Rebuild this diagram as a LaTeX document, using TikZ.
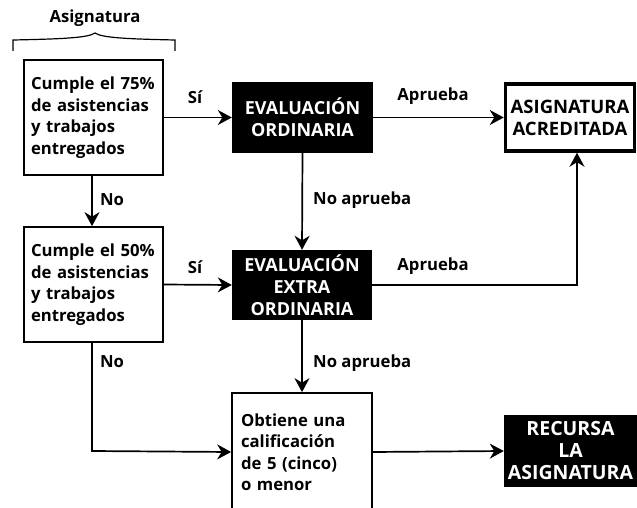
\documentclass[tikz,border=0pt]{standalone}
\usepackage{fontspec}
\setmainfont{Open Sans}
\usetikzlibrary{arrows.meta}
\begin{document}
\begin{tikzpicture}[x=1pt,y=-1pt,
  every node/.style={font=\bfseries\fontsize{16.7}{21.5}\selectfont},
  lbox/.style={draw, line width=1.7pt, minimum width=139pt, minimum height=115pt, text width=125pt, align=left, inner sep=0pt},
  dbox/.style={fill=black, text=white, minimum width=141pt, minimum height=71pt, align=center, inner sep=0pt, font=\bfseries\fontsize{18}{22}\selectfont},
  conn/.style={line width=1.7pt, -{Stealth[length=14pt,width=15pt]}},
  lbl/.style={inner sep=0pt}
]
\clip (0,0) rectangle (637,508);
\fill[white] (0,0) rectangle (637,508);
\node[lbl] (title) at (95,18) {Asignatura};
\draw[line width=1.2pt] (13,51) -- (13,40) .. controls (60,39) and (88,38) .. (95,33) .. controls (102,38) and (130,39) .. (175,40) -- (175,51);
\node[lbox] (b1) at (93.5,117.5) {Cumple el 75\%\\de asistencias\\y trabajos\\entregados};
\node[dbox] (eo) at (302.5,117.5) {EVALUACIÓN\\ORDINARIA};
\node[draw, line width=3.5pt, minimum width=129pt, minimum height=67pt, align=center, inner sep=0pt, font=\bfseries\fontsize{18.5}{22}\selectfont] (aa) at (570,117.5) {ASIGNATURA\\ACREDITADA};
\node[lbox] (b2) at (93.5,284.5) {Cumple el 50\%\\de asistencias\\y trabajos\\entregados};
\node[dbox, minimum width=140pt, minimum height=70pt] (eeo) at (302,285) {EVALUACIÓN\\EXTRA\\ORDINARIA};
\node[lbox, minimum width=140pt, minimum height=118pt, text width=122pt] (b3) at (302,452) {Obtiene una\\calificación\\de 5 (cinco)\\o menor};
\node[dbox, minimum width=133pt, minimum height=72pt, font=\bfseries\fontsize{19.5}{22}\selectfont] (rla) at (570.5,451) {RECURSA\\LA\\ASIGNATURA};
\coordinate (c1) at (577,285);
\coordinate (c2) at (92,451);
\draw[conn] (b1.east) -- (eo.west);
\draw[conn] (eo.east) -- (aa.west);
\draw[conn] (b1.south -| 92,0) -- (b2.north -| 92,0);
\draw[conn] (eo.south) -- (eeo.north);
\draw[conn] (b2.east) -- (eeo.west);
\draw[conn] (eeo.east) -- (c1) -- (aa.south -| c1);
\draw[conn] (eeo.south) -- (b3.north);
\draw[conn] (b2.south -| c2) -- (c2) -- (b3.west);
\draw[conn] (b3.east) -- (rla.west);
\node[lbl] (s1) at (195,97) {Sí};
\node[lbl] (a1) at (433,96) {Aprueba};
\node[lbl] (n1) at (112,200) {No};
\node[lbl, anchor=west] (na1) at (313,200) {No aprueba};
\node[lbl] (s2) at (195,267) {Sí};
\node[lbl] (a2) at (433,266) {Aprueba};
\node[lbl] (n2) at (112,362) {No};
\node[lbl, anchor=west] (na2) at (313,363) {No aprueba};
\end{tikzpicture}
\end{document}
